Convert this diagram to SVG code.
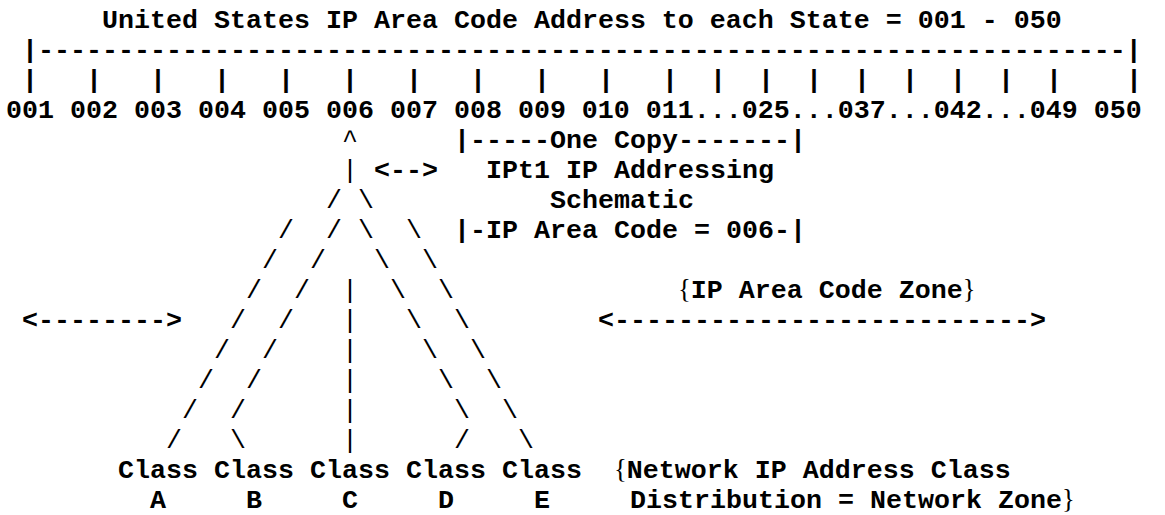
<svg xmlns="http://www.w3.org/2000/svg" width="1165" height="515" viewBox="0 0 1165 515" xml:space="preserve">
<style>
.t{font-family:"Liberation Mono","Courier New",monospace;font-weight:bold;font-size:26.67px;fill:#000;white-space:pre}
.c{font-family:"Liberation Mono","Courier New",monospace;font-weight:normal;font-size:26.67px;fill:#000;text-anchor:middle}
.p{font-family:"Liberation Mono","Courier New",monospace;font-weight:bold;font-size:26.67px;fill:#000;text-anchor:middle}
.b{font-family:"Liberation Serif","Times New Roman",serif;font-size:26.67px;fill:#000}
</style>
<rect width="1165" height="515" fill="#fff"/>
<g id="title"><text class="t" x="102" y="28">United States IP Area Code Address to each State = 001 - 050</text></g>
<g id="ruler">
<text class="t" x="22" y="58">|--------------------------------------------------------------------|</text>
<text class="p" y="88" x="30 94 158 222 286 350 414 478 542 606 670 718 766 814 862 910 958 1006 1054 1134">||||||||||||||||||||</text>
<text class="t" x="6" y="118">001 002 003 004 005 006 007 008 009 010 011...025...037...042...049 050</text>
</g>
<g id="one-copy"><text class="t" x="454" y="148">|-----One Copy-------|</text></g>
<g id="schematic">
<text class="t" x="374" y="178">&lt;--&gt;</text>
<text class="t" x="486" y="178">IPt1 IP Addressing</text>
<text class="t" x="550" y="208">Schematic</text>
</g>
<g id="area-code"><text class="t" x="454" y="238">|-IP Area Code = 006-|</text></g>
<g id="area-zone">
<text class="b" x="678" y="298">{</text>
<text class="t" x="690.8" y="298">IP Area Code Zone</text>
<text class="b" x="962.8" y="298">}</text>
<text class="t" x="598" y="328">&lt;--------------------------&gt;</text>
</g>
<g id="left-arrow"><text class="t" x="22" y="328">&lt;--------&gt;</text></g>
<g id="connectors">
<text class="c" x="350" y="148">^</text>
<text class="c" x="350" y="178">|</text>
<text class="c" x="334 366" y="208">/\</text>
<text class="c" x="286 334 366 414" y="238">//\\</text>
<text class="c" x="270 318 382 430" y="268">//\\</text>
<text class="c" x="254 302 350 398 446" y="298">//|\\</text>
<text class="c" x="238 286 350 414 462" y="328">//|\\</text>
<text class="c" x="222 270 350 430 478" y="358">//|\\</text>
<text class="c" x="206 254 350 446 494" y="388">//|\\</text>
<text class="c" x="190 238 350 462 510" y="418">//|\\</text>
<text class="c" x="174 238 350 462 526" y="448">/\|/\</text>
</g>
<g id="class-a"><text class="t" x="118" y="478">Class</text><text class="t" x="150" y="508">A</text></g>
<g id="class-b"><text class="t" x="214" y="478">Class</text><text class="t" x="246" y="508">B</text></g>
<g id="class-c"><text class="t" x="310" y="478">Class</text><text class="t" x="342" y="508">C</text></g>
<g id="class-d"><text class="t" x="406" y="478">Class</text><text class="t" x="438" y="508">D</text></g>
<g id="class-e"><text class="t" x="502" y="478">Class</text><text class="t" x="534" y="508">E</text></g>
<g id="network-zone">
<text class="b" x="614" y="478">{</text>
<text class="t" x="626.8" y="478">Network IP Address Class</text>
<text class="t" x="630" y="508">Distribution = Network Zone</text>
<text class="b" x="1062" y="508">}</text>
</g>
</svg>
